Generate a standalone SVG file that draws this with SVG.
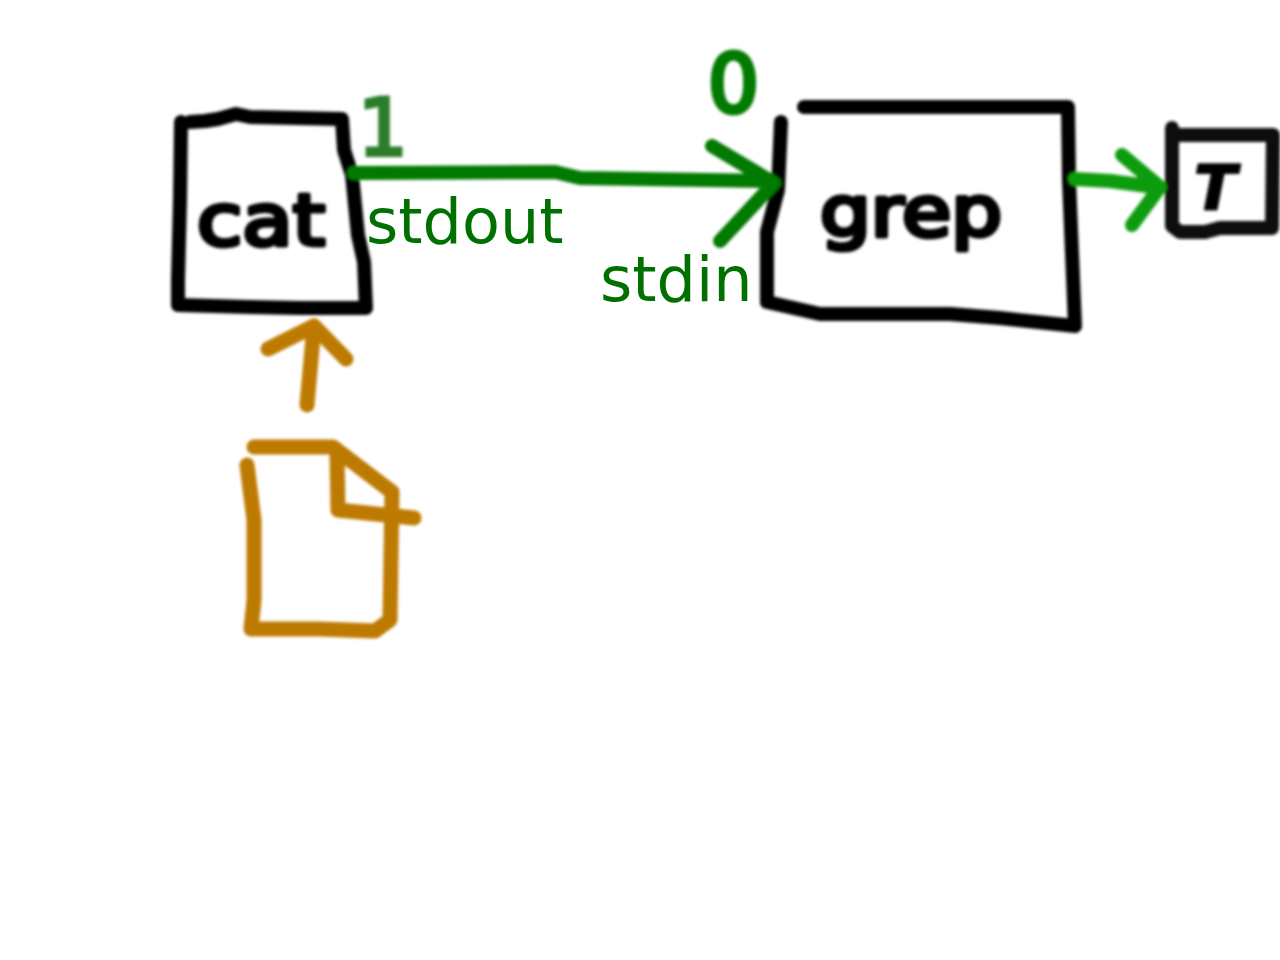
<svg xmlns="http://www.w3.org/2000/svg" width="1280" height="960" viewBox="0 0 1280 960">
<defs><filter id="soft" x="-10%" y="-10%" width="120%" height="120%"><feGaussianBlur stdDeviation="1.4"/></filter></defs>
<style>
.s{fill:none;stroke-linecap:round;stroke-linejoin:round}
.k{stroke:#000;stroke-width:14}
.t{stroke:#111;stroke-width:14}
.o{stroke:#bd7a06;stroke-width:15}
.g{stroke:#067a06;stroke-width:14}
.lg{stroke:#0a9c0a;stroke-width:14}
.lab{font-family:"DejaVu Sans",sans-serif;font-size:62px;fill:#007000}
.hand{font-family:"DejaVu Sans",sans-serif;fill:#000;stroke:#000;stroke-linejoin:round}
</style>
<rect width="1280" height="960" fill="#fff"/>
<g filter="url(#soft)">
<g id="cat"><path class="s k" d="M181 122L180 200L178 280L178 305L250 307L300 308L366 308L364 262L358 235L352 175L344 150L342 119L250 117L236 114L218 119L205 121L190 122"/><text class="hand" x="197" y="245" font-size="72" stroke-width="5" textLength="128" lengthAdjust="spacingAndGlyphs">cat</text></g>
<g id="grep"><path class="s k" d="M804 107L1068 107L1069 180L1075 326L1000 318L950 314L820 314L767 302L767 232L778 190L781 122"/><text class="hand" x="820" y="236" font-size="70" stroke-width="5" textLength="182" lengthAdjust="spacingAndGlyphs">grep</text></g>
<g id="terminal"><path class="s t" d="M1172 128L1172 226L1180 232L1205 232L1220 228L1272 228L1273 135L1175 135"/><text class="hand" x="1194" y="210" font-size="62" font-weight="bold" stroke-width="2" font-style="italic">T</text></g>
<g id="file"><path class="s o" d="M254 447L333 447L392 492L390 620L375 631L320 629L251 629L254 600L254 520L247 465M337 455L338 510L414 518"/></g>
<g id="connectors">
<path class="s g" d="M354 173L555 172L580 178L770 181M712 146L774 183L720 241"/>
<path class="s lg" d="M1075 179L1110 181L1155 187M1122 155L1160 187L1132 225"/>
<path class="s o" d="M307 405L314 326M268 349L314 326L346 359"/>
</g>
<g id="fd1"><text x="358" y="155" font-family="DejaVu Sans,sans-serif" font-size="78" stroke="#2a7d2a" stroke-width="4" fill="#2a7d2a">1</text></g>
<g id="fd0"><text x="708" y="112" font-family="DejaVu Sans,sans-serif" font-size="80" stroke="#067a06" stroke-width="5" fill="#067a06">0</text></g>
</g>
<g id="labels"><text class="lab" x="366" y="243">stdout</text><text class="lab" x="600" y="301">stdin</text></g>
</svg>
